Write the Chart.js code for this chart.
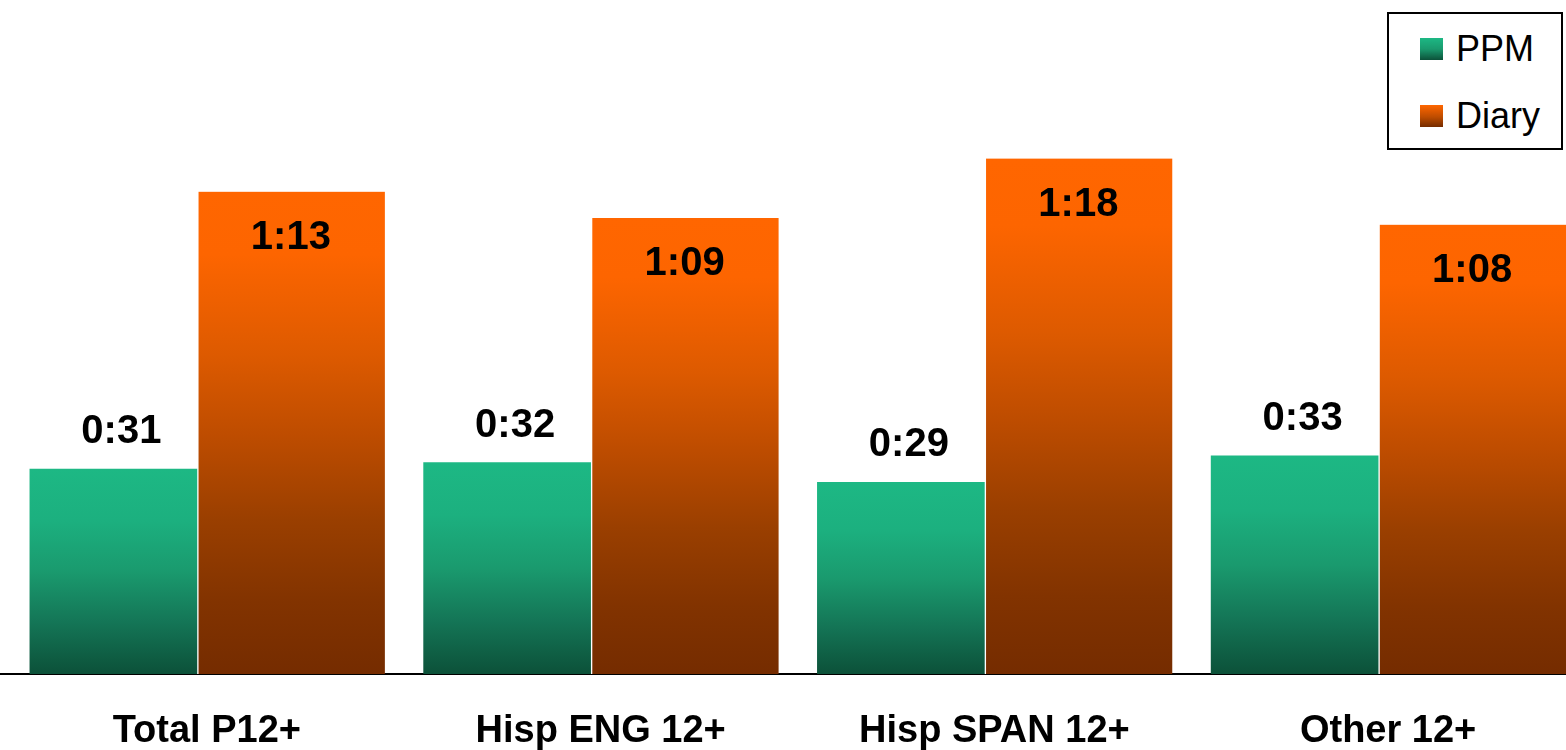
<!DOCTYPE html>
<html>
<head>
<meta charset="utf-8">
<script src="https://cdn.jsdelivr.net/npm/chart.js@4.4.1/dist/chart.umd.min.js"></script>
<style>
  html, body { margin: 0; padding: 0; background: #fff; overflow: hidden; }
  #chartContainer { position: relative; width: 1575px; height: 750px; }
  #legendBox {
    position: absolute; left: 1387px; top: 12px; width: 176px; height: 138px;
    box-sizing: border-box; border: 2px solid #000; background: #fff;
    font-family: 'Liberation Sans', Arial, sans-serif; font-size: 36px; color: #000;
  }
  #legendBox .item { position: absolute; left: 31px; height: 44px; display: flex; align-items: center; }
  #legendBox .swatch { width: 23px; height: 22px; margin-right: 13px; }
</style>
</head>
<body>
<div id="chartContainer">
  <canvas id="chartTime"></canvas>
  <div id="legendBox"></div>
</div>
<script>
/* data: minutes */
const categories = ['Total P12+', 'Hisp ENG 12+', 'Hisp SPAN 12+', 'Other 12+'];
const ppmValues = [31, 32, 29, 33];
const diaryValues = [73, 69, 78, 68];
const seriesNames = ['PPM', 'Diary'];

const greenStops = [[0, '#1db884'], [0.25, '#1cb07f'], [0.5, '#1a9a6e'], [0.75, '#147556'], [1, '#0c5139']];
const orangeStops = [[0, '#ff6600'], [0.13, '#fd6500'], [0.34, '#dd5a00'], [0.51, '#bd4c00'], [0.68, '#9a3f00'], [0.85, '#823300'], [1, '#752c00']];

function fmtTime(m) {
  const h = Math.floor(m / 60);
  const mm = m % 60;
  return h + ':' + (mm < 10 ? '0' : '') + mm;
}

function barGradient(stops, fallback) {
  return function (context) {
    const chart = context.chart;
    if (!chart.chartArea || context.parsed == null) {
      return fallback;
    }
    const y = chart.scales.y;
    const top = y.getPixelForValue(context.parsed.y);
    const bottom = y.getPixelForValue(0);
    const g = chart.ctx.createLinearGradient(0, top, 0, bottom);
    stops.forEach(function (s) { g.addColorStop(s[0], s[1]); });
    return g;
  };
}

/* labels: PPM above the bar, Diary inside near top */
const valueLabels = {
  id: 'valueLabels',
  afterDatasetsDraw: function (chart) {
    const ctx = chart.ctx;
    ctx.save();
    ctx.font = 'bold 40px "Liberation Sans", Arial, sans-serif';
    ctx.fillStyle = '#000';
    ctx.textAlign = 'center';
    ctx.textBaseline = 'middle';
    chart.data.datasets.forEach(function (ds, di) {
      const meta = chart.getDatasetMeta(di);
      meta.data.forEach(function (bar, i) {
        const txt = fmtTime(ds.data[i]);
        if (di === 0) {
          ctx.fillText(txt, bar.x + 8, bar.y - 37);
        } else {
          ctx.fillText(txt, bar.x, bar.y + 46);
        }
      });
    });
    ctx.restore();
  },
};

const chart = new Chart(document.getElementById('chartTime'), {
  type: 'bar',
  data: {
    labels: categories,
    datasets: [
      {
        label: seriesNames[0],
        data: ppmValues,
        backgroundColor: barGradient(greenStops, '#1db884'),
        barThickness: 167,
        borderWidth: 0,
      },
      {
        label: seriesNames[1],
        data: diaryValues,
        backgroundColor: barGradient(orangeStops, '#ff6600'),
        borderColor: '#ffffff',
        borderWidth: { left: 2, right: 0, top: 0, bottom: 0 },
        borderSkipped: false,
        barThickness: 188,
      },
    ],
  },
  options: {
    responsive: true,
    maintainAspectRatio: false,
    animation: false,
    layout: { padding: 0 },
    plugins: {
      legend: { display: false },
      tooltip: { enabled: false },
    },
    scales: {
      x: {
        grid: { display: false, drawTicks: false },
        border: { display: true, color: '#000', width: 2 },
        ticks: {
          color: '#000',
          padding: 37,
          labelOffset: 10,
          font: { family: "'Liberation Sans', Arial, sans-serif", size: 38, weight: 'bold', lineHeight: 1.1 },
        },
        afterFit: function (scale) {
          scale.height = 76;
        },
      },
      y: {
        display: false,
        min: 0,
        max: 102,
      },
    },
  },
  plugins: [valueLabels],
});

/* html legend built from the datasets */
const legendBox = document.getElementById('legendBox');
const swatchCss = [
  'linear-gradient(#1db884, #1a9a6e 50%, #0c5139)',
  'linear-gradient(#ff6600, #bd4c00 55%, #752c00)',
];
chart.data.datasets.forEach(function (ds, i) {
  const item = document.createElement('div');
  item.className = 'item';
  item.style.top = (13 + i * 67) + 'px';
  const sw = document.createElement('span');
  sw.className = 'swatch';
  sw.style.background = swatchCss[i];
  const tx = document.createElement('span');
  tx.textContent = ds.label;
  item.appendChild(sw);
  item.appendChild(tx);
  legendBox.appendChild(item);
});
</script>
</body>
</html>
